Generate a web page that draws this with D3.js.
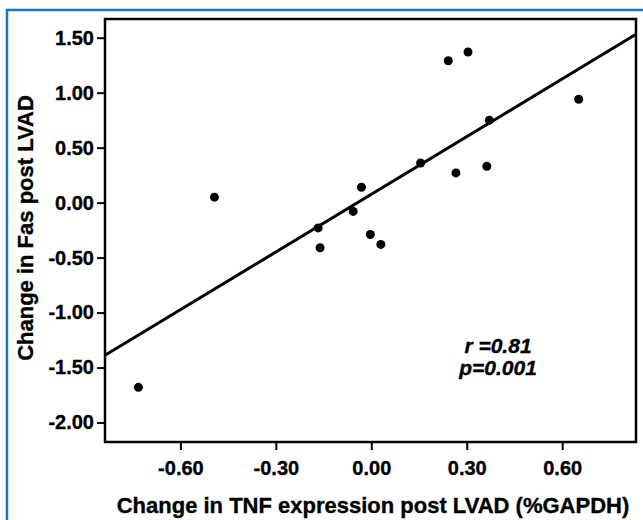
<!DOCTYPE html>
<html>
<head>
<meta charset="utf-8">
<script src="https://cdn.jsdelivr.net/npm/d3@7"></script>
<style>
  body { margin: 0; background: #fff; }
  svg { display: block; }
  text { font-family: "Liberation Sans", Arial, sans-serif; font-weight: bold; fill: #000; stroke: #000; stroke-width: 0.35px; }
</style>
</head>
<body>
<div id="chart"></div>
<script>
var width = 643
var height = 520

// plot box in page pixels
var margin = { top: 19, bottom: 78, left: 105, right: 7 }

// change in TNF (x) and change in Fas (y)
var tnfChange = [-0.732, -0.493, -0.167, -0.161, -0.057, -0.031, -0.003, 0.030, 0.155, 0.266, 0.363, 0.371, 0.242, 0.304, 0.652]
var fasChange = [-1.68, 0.05, -0.23, -0.41, -0.08, 0.14, -0.29, -0.38, 0.36, 0.27, 0.33, 0.75, 1.29, 1.37, 0.94]

var xTicks = [-0.6, -0.3, 0, 0.3, 0.6]
var yTicks = [1.5, 1.0, 0.5, 0, -0.5, -1.0, -1.5, -2.0]
var xDomain = [-0.837, 0.832]
var yDomain = [-2.177, 1.67]
var statLines = ["r =0.81", "p=0.001"]

var points = tnfChange.map(function(d, i) { return { x: d, y: fasChange[i] } })

// plain hyphen for negatives, like the original
var fmt = function(d) { return d3.format(".2f")(d).replace("\u2212", "-") }

var svg = d3.select("#chart").append("svg")
    .attr("width", width)
    .attr("height", height)

// blue frame around the figure
svg.append("path")
    .attr("d", "M7," + height + " L7,10 L" + width + ",10")
    .attr("fill", "none")
    .attr("stroke", "#1c74bb")
    .attr("stroke-width", 2.5)

var xScale = d3.scaleLinear().domain(xDomain).range([margin.left, width - margin.right])
var yScale = d3.scaleLinear().domain(yDomain).range([height - margin.bottom, margin.top])

// axes
var xAxis = svg.append("g")
    .attr("transform", "translate(0," + (height - margin.bottom) + ")")
    .call(d3.axisBottom(xScale).tickValues(xTicks).tickFormat(fmt).tickSize(8).tickSizeOuter(0))
xAxis.select(".domain").remove()
xAxis.selectAll("line").attr("stroke", "#000").attr("stroke-width", 2)
xAxis.selectAll("text").style("font-size", "20px").attr("dy", "0").attr("y", 33)

var yAxis = svg.append("g")
    .attr("transform", "translate(" + margin.left + ",0)")
    .call(d3.axisLeft(yScale).tickValues(yTicks).tickFormat(fmt).tickSize(8).tickSizeOuter(0))
yAxis.select(".domain").remove()
yAxis.selectAll("line").attr("stroke", "#000").attr("stroke-width", 2)
yAxis.selectAll("text").style("font-size", "20px").attr("x", -11)

// plot frame
svg.append("rect")
    .attr("x", xScale.range()[0])
    .attr("y", yScale.range()[1])
    .attr("width", xScale.range()[1] - xScale.range()[0])
    .attr("height", yScale.range()[0] - yScale.range()[1])
    .attr("fill", "none")
    .attr("stroke", "#000")
    .attr("stroke-width", 2.5)

// least squares fit line across the frame
var mx = d3.mean(points, function(d) { return d.x })
var my = d3.mean(points, function(d) { return d.y })
var sxy = d3.sum(points, function(d) { return (d.x - mx) * (d.y - my) })
var sxx = d3.sum(points, function(d) { return (d.x - mx) * (d.x - mx) })
var slope = sxy / sxx
var intercept = my - slope * mx

svg.append("line")
    .attr("x1", xScale(xDomain[0]))
    .attr("y1", yScale(intercept + slope * xDomain[0]))
    .attr("x2", xScale(xDomain[1]))
    .attr("y2", yScale(intercept + slope * xDomain[1]))
    .attr("stroke", "#000")
    .attr("stroke-width", 3)

svg.selectAll("circle")
    .data(points)
    .enter()
    .append("circle")
    .attr("cx", function(d) { return xScale(d.x) })
    .attr("cy", function(d) { return yScale(d.y) })
    .attr("r", 4.5)
    .attr("fill", "#000")

// r and p
svg.selectAll(".stat")
    .data(statLines)
    .enter()
    .append("text")
    .attr("class", "stat")
    .attr("x", 498)
    .attr("y", function(d, i) { return 353 + i * 22 })
    .attr("text-anchor", "middle")
    .style("font-size", "21px")
    .style("font-style", "italic")
    .text(function(d) { return d })

// axis titles
svg.append("text")
    .attr("x", 373)
    .attr("y", 513)
    .attr("text-anchor", "middle")
    .style("font-size", "22px")
    .text("Change in TNF expression post LVAD (%GAPDH)")

svg.append("text")
    .attr("transform", "translate(33,228) rotate(-90)")
    .attr("text-anchor", "middle")
    .style("font-size", "22px")
    .text("Change in Fas post LVAD")
</script>
</body>
</html>
